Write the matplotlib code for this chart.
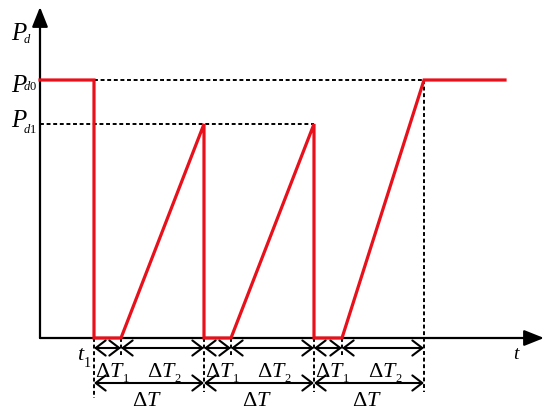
import matplotlib.pyplot as plt

plt.rcParams['mathtext.fontset'] = 'custom'
plt.rcParams['mathtext.rm'] = 'Liberation Serif'
plt.rcParams['mathtext.it'] = 'Liberation Serif:italic'
plt.rcParams['font.family'] = 'Liberation Serif'

# power curve (time measured from the y axis, power from the t axis)
t_curve = [0, 54, 54, 81, 164, 164, 191, 274, 274, 302, 384, 465]
p_curve = [258, 258, 0, 0, 214, 0, 0, 214, 0, 0, 258, 258]

Pd0 = 258
Pd1 = 214
t_marks = [54, 164, 274, 384]          # start of each period
t_ramp = [81, 191, 302]                # end of each dT1
y_labels = [('P', 'd', 298, 295), ('P', 'd0', 246, 248), ('P', 'd1', 211, 205)]

fig = plt.figure(figsize=(5.5, 4.15), dpi=100)
ax = fig.add_axes([0, 0, 1, 1])
ax.set_xlim(-40, 510)
ax.set_ylim(-77, 338)
ax.axis('off')


def sublabel(x, y, main, sub, ysub, fs=15, sfs=9, dx=0):
    m = ax.text(x, y, main, fontsize=fs, ha='left', va='baseline')
    ax.annotate(sub, xy=(1, ysub), xycoords=(m, 'data'), xytext=(dx, 0),
                textcoords='offset points', fontsize=sfs, ha='left', va='baseline')


# axes with arrows
ax_arr = dict(arrowstyle='-|>,head_length=0.55,head_width=0.22', mutation_scale=22,
              lw=1.6, color='k', shrinkA=0, shrinkB=0)
ax.annotate('', xy=(504, 0), xytext=(0, 0), arrowprops=ax_arr)
ax.annotate('', xy=(0, 331), xytext=(0, 0), arrowprops=ax_arr)

dot = dict(color='k', lw=1.4, linestyle=(0, (2, 1.4)))
# horizontal guides
ax.plot([t_marks[0], t_marks[-1]], [Pd0, Pd0], **dot)
ax.plot([0, t_marks[2]], [Pd1, Pd1], **dot)
# vertical guides
ax.plot([t_marks[0], t_marks[0]], [0, -60], **dot)
for t in t_marks[1:3]:
    ax.plot([t, t], [0, -54], **dot)
ax.plot([t_marks[-1], t_marks[-1]], [Pd0, -54], **dot)
for t in t_ramp:
    ax.plot([t, t], [0, -17], **dot)

# red curve
ax.plot(t_curve, p_curve, color='#e8101a', lw=2.3, solid_joinstyle='miter', zorder=5)

# dimension arrows
arr = dict(arrowstyle='<->,head_length=0.55,head_width=0.42', mutation_scale=13,
           lw=1.5, color='k', shrinkA=0, shrinkB=0)
for i in range(3):
    a, b, c = t_marks[i], t_ramp[i], t_marks[i + 1]
    ax.annotate('', xy=(b, -10), xytext=(a, -10), arrowprops=arr)
    ax.annotate('', xy=(c, -10), xytext=(b, -10), arrowprops=arr)
    ax.annotate('', xy=(c, -45), xytext=(a, -45), arrowprops=arr)
    sublabel(a + 1, -39, r'$\Delta T$', r'$1$', -44, fs=16, dx=-2.5)
    sublabel(b + 26, -39, r'$\Delta T$', r'$2$', -44, fs=16, dx=-2.5)
    ax.text(a + 38, -68, r'$\Delta T$', fontsize=16, ha='left', va='baseline')

sublabel(37, -22, r'$t$', r'$1$', -29, fs=16, sfs=10, dx=-2)
ax.text(473, -21, r'$t$', fontsize=14, ha='left', va='baseline')

for main, sub, yb, ys in y_labels:
    sublabel(-29, yb, r'$%s$' % main, r'$%s$' % sub[0] + sub[1:], ys,
             fs=18, sfs=9, dx=-3.5)

fig.savefig('out.png', dpi=100)
